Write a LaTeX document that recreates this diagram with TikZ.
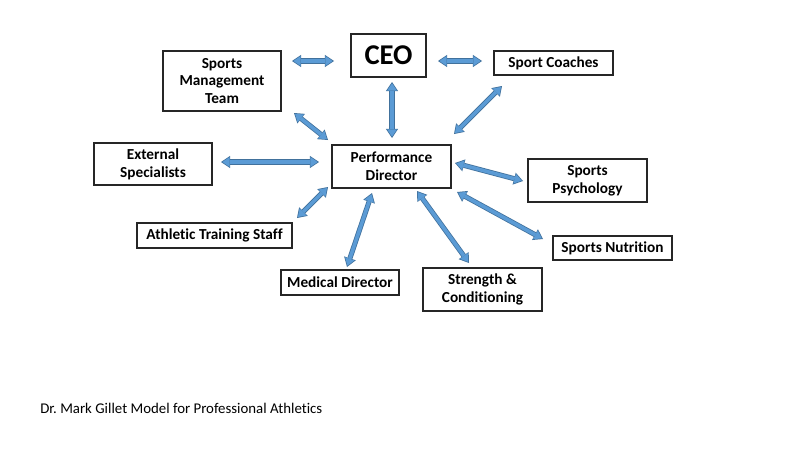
\documentclass[tikz,border=0pt]{standalone}
\usepackage{fontspec}
\setmainfont{Carlito}[Ligatures=CommonOff]
\usetikzlibrary{arrows.meta}
\definecolor{arrfill}{HTML}{5B9BD5}
\definecolor{arrline}{HTML}{41719C}
\frenchspacing

\begin{document}
\begin{tikzpicture}[
		x=0.02cm, y=-0.02cm,
		box/.style={
			draw=black!85, line width=0.75pt, rectangle,
			font=\fontsize{8.7}{10.2}\selectfont\bfseries,
			align=center, inner sep=0pt
		},
		linkout/.style={
			draw=arrline, line width=2.9pt,
			{Triangle[width=7pt, length=5.2pt, line width=0pt]}-{Triangle[width=7pt, length=5.2pt, line width=0pt]}
		},
		linkin/.style={
			draw=arrfill, line width=2.0pt, shorten <=0.8pt, shorten >=0.8pt,
			{Triangle[width=5.6pt, length=4.1pt, line width=0pt]}-{Triangle[width=5.6pt, length=4.1pt, line width=0pt]}
		},
		]
		
		\useasboundingbox (0,0) rectangle (800,450);
		
		\node[box, minimum width=2.36cm, minimum height=1.2cm]  (smt)  at (222, 81)    {Sports\\Management\\Team};
		\node[box, minimum width=1.5cm, minimum height=0.86cm, font=\fontsize{16.3}{18}\selectfont\bfseries] (ceo) at (388.5, 55.5) {CEO};
		\node[box, minimum width=2.38cm, minimum height=0.48cm] (sc)   at (553.5, 63)   {Sport Coaches};
		\node[box, minimum width=2.36cm, minimum height=0.84cm] (es)   at (153, 164)    {External\\Specialists};
		\node[box, minimum width=2.38cm, minimum height=0.86cm] (pd)   at (391.5, 166.5) {Performance\\Director};
		\node[box, minimum width=2.38cm, minimum height=0.86cm] (sp)   at (587.5, 180.5) {Sports\\Psychology};
		\node[box, minimum width=3.1cm,  minimum height=0.5cm]  (ats)  at (214.5, 235.5) {Athletic Training Staff};
		\node[box, minimum width=2.38cm, minimum height=0.48cm] (sn)   at (612.5, 248)  {Sports Nutrition};
		\node[box, minimum width=2.36cm, minimum height=0.5cm]  (md)   at (340, 282.5)  {Medical Director};
		\node[box, minimum width=2.38cm, minimum height=0.86cm] (stc)  at (482.5, 289.5) {Strength \&\\Conditioning};
		
		\node[anchor=west, inner sep=0pt, font=\fontsize{8.45}{10}\selectfont] (note) at (40, 408) {Dr. Mark Gillet Model for Professional Athletics};
		
		% arrow ends
		\coordinate (smt-r)  at (292, 61);
		\coordinate (ceo-l)  at (334, 61);
		\coordinate (ceo-r)  at (438, 61);
		\coordinate (sc-l)   at (482, 61);
		\coordinate (ceo-b)  at (392, 82);
		\coordinate (pd-t)   at (392, 138);
		\coordinate (sc-b)   at (502, 86);
		\coordinate (pd-tr)  at (454, 134);
		\coordinate (smt-b)  at (294, 113);
		\coordinate (pd-tl)  at (328, 140);
		\coordinate (es-r)   at (221, 162);
		\coordinate (pd-l)   at (319, 162);
		\coordinate (pd-r)   at (455, 163);
		\coordinate (sp-l)   at (523, 181);
		\coordinate (pd-br)  at (457, 192);
		\coordinate (sn-l)   at (543, 239);
		\coordinate (pd-b2)  at (417, 191);
		\coordinate (stc-t)  at (469, 263);
		\coordinate (pd-bl)  at (328, 187);
		\coordinate (ats-r)  at (297, 218);
		\coordinate (pd-b1)  at (372, 193);
		\coordinate (md-t)   at (347, 267);
		
		\foreach \a/\b in {smt-r/ceo-l, ceo-r/sc-l, ceo-b/pd-t, sc-b/pd-tr,
			smt-b/pd-tl, es-r/pd-l, pd-r/sp-l, pd-br/sn-l, pd-b2/stc-t,
			pd-bl/ats-r, pd-b1/md-t} {
			\draw[linkout] (\a) -- (\b);
			\draw[linkin] (\a) -- (\b);
		}
		
	\end{tikzpicture}
\end{document}
